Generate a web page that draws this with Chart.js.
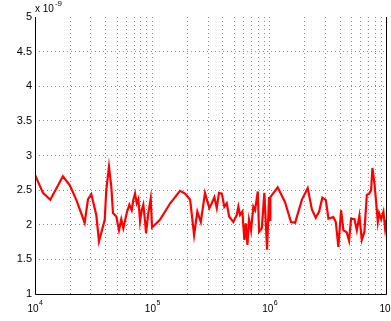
<!DOCTYPE html>
<html>
<head>
<meta charset="utf-8">
<script src="https://cdn.jsdelivr.net/npm/chart.js@4/dist/chart.umd.min.js"></script>
<style>
  html, body { margin: 0; padding: 0; background: #fff; }
  canvas { display: block; }
</style>
</head>
<body>
<canvas id="miGrafica" width="391" height="321"></canvas>
<script>
// frequency (Hz) and noise (x 1e-9)
const freqs = [
  1.00e4, 1.17e4, 1.35e4, 1.73e4, 1.98e4, 2.25e4, 2.65e4, 2.83e4, 3.02e4, 3.33e4,
  3.51e4, 3.93e4, 4.05e4, 4.27e4, 4.47e4, 4.62e4, 4.93e4, 5.20e4, 5.44e4,
  5.66e4, 6.05e4, 6.37e4, 6.67e4, 6.89e4, 7.12e4, 7.36e4, 7.60e4, 7.86e4, 8.12e4,
  8.38e4, 8.67e4, 8.84e4, 9.25e4, 9.69e4, 9.94e4, 1.16e5, 1.42e5, 1.72e5, 1.90e5,
  2.10e5, 2.27e5, 2.42e5, 2.59e5, 2.81e5, 3.06e5,
  3.21e5, 3.38e5, 3.54e5, 3.70e5, 3.91e5, 4.11e5, 4.31e5, 4.51e5, 4.90e5, 5.24e5,
  5.41e5, 5.59e5, 5.85e5, 6.09e5, 6.26e5, 6.46e5, 6.67e5, 6.94e5, 7.26e5, 7.51e5,
  7.92e5, 8.12e5, 8.57e5, 9.01e5, 9.26e5, 9.50e5, 9.88e5, 1.008e6, 1.014e6, 1.17e6,
  1.35e6, 1.52e6,
  1.65e6, 1.88e6, 2.11e6, 2.29e6, 2.47e6, 2.64e6, 2.81e6, 3.01e6, 3.17e6, 3.49e6,
  3.66e6, 3.85e6, 4.06e6, 4.25e6, 4.54e6, 4.75e6, 4.94e6, 5.28e6, 5.53e6, 5.82e6,
  6.10e6, 6.42e6, 6.73e6, 7.04e6, 7.32e6, 7.51e6, 7.81e6, 8.03e6, 8.35e6, 8.56e6,
  8.91e6, 9.32e6, 9.63e6, 9.88e6, 1.00e7
];
const noise = [
  2.72, 2.46, 2.36, 2.70, 2.57, 2.36, 2.03, 2.37, 2.44, 2.14,
  1.76, 2.07, 2.50, 2.84, 2.55, 2.17, 2.12, 1.92, 2.08,
  1.95, 2.17, 2.29, 2.21, 2.36, 2.45, 2.31, 2.37, 2.05, 2.21,
  2.29, 2.05, 1.88, 2.17, 2.38, 1.96, 2.07, 2.31, 2.49, 2.45,
  2.36, 1.85, 2.19, 2.04, 2.46, 2.24,
  2.31, 2.40, 2.24, 2.46, 2.45, 2.26, 2.31, 2.12, 2.04, 2.14,
  2.26, 2.14, 2.19, 1.78, 2.02, 1.71, 2.07, 1.92, 2.26, 2.21,
  2.48, 1.90, 1.95, 2.46, 2.04, 1.64, 2.40, 2.07, 2.40, 2.54,
  2.33, 2.04,
  2.03, 2.36, 2.53, 2.22, 2.10, 2.19, 2.39, 2.36, 2.09, 2.11,
  2.04, 1.68, 2.21, 1.92, 1.89, 1.77, 2.09, 2.08, 1.92, 2.13,
  1.78, 1.90, 2.43, 2.45, 2.50, 2.82, 2.60, 2.38, 2.04, 2.17,
  2.08, 2.19, 1.95, 2.07, 1.78
];

const yTicks = [1, 1.5, 2, 2.5, 3, 3.5, 4, 4.5, 5];
const yTickLabels = ['1', '1.5', '2', '2.5', '3', '3.5', '4', '4.5', '5'];
const xDecades = [4, 5, 6, 7];
const yExponent = '-9';

// grid at 1..9 x 10^n
const xGrid = [];
xDecades.forEach(e => {
  for (let m = 1; m <= 9; m++) {
    if (e === 7 && m > 1) break;
    xGrid.push(m * Math.pow(10, e));
  }
});

const font = 'Liberation Sans, Helvetica, Arial, sans-serif';
const gridCol = 'rgba(0,0,0,0.45)';

const ejes = {
  id: 'ejes',
  afterDraw(chart) {
    const c = chart.ctx;
    const a = chart.chartArea;
    const sx = chart.scales.x;
    c.save();
    c.strokeStyle = '#000';
    c.lineWidth = 1;
    c.beginPath();
    c.moveTo(a.left + 0.5, a.top);
    c.lineTo(a.left + 0.5, a.bottom + 0.5);
    c.lineTo(a.right - 0.5, a.bottom + 0.5);
    c.lineTo(a.right - 0.5, a.top);
    c.stroke();

    c.fillStyle = '#000';
    c.textBaseline = 'alphabetic';
    c.textAlign = 'left';
    xDecades.forEach(e => {
      const px = sx.getPixelForValue(Math.pow(10, e));
      c.font = '10px ' + font;
      const w1 = c.measureText('10').width;
      c.font = '7px ' + font;
      const w2 = c.measureText(String(e)).width;
      const x0 = px - (w1 + w2) / 2;
      c.font = '10px ' + font;
      c.fillText('10', x0, 312);
      c.font = '7px ' + font;
      c.fillText(String(e), x0 + w1 + 0.5, 305);
    });

    c.font = '10px ' + font;
    const wx = c.measureText('x 10').width;
    c.fillText('x 10', a.left, 12);
    c.font = '8px ' + font;
    c.fillText(yExponent, a.left + wx + 1, 6);
    c.restore();
  }
};

const myChart = new Chart(document.getElementById('miGrafica'), {
  type: 'line',
  data: {
    datasets: [{
      data: freqs.map((f, i) => ({ x: f, y: noise[i] })),
      borderColor: '#ff0000',
      borderWidth: 2.2,
      pointRadius: 0,
      tension: 0,
      fill: false
    }]
  },
  options: {
    responsive: false,
    animation: false,
    devicePixelRatio: 1,
    layout: { padding: { top: 17, right: 4, left: 0, bottom: 0 } },
    plugins: { legend: { display: false }, tooltip: { enabled: false } },
    scales: {
      x: {
        type: 'logarithmic',
        min: 1e4,
        max: 1e7,
        afterBuildTicks: s => { s.ticks = xGrid.map(v => ({ value: v })); },
        afterFit: s => { s.height = 27; },
        ticks: { display: false },
        grid: {
          drawTicks: false,
          lineWidth: 1,
          color: ctx => (ctx.tick && (ctx.tick.value === 1e4 || ctx.tick.value === 1e7)) ? 'rgba(0,0,0,0)' : gridCol
        },
        border: { display: false, dash: [1, 3] }
      },
      y: {
        min: 1,
        max: 5,
        afterBuildTicks: s => { s.ticks = yTicks.map(v => ({ value: v })); },
        afterFit: s => { s.width = 35; },
        ticks: {
          color: '#000',
          padding: 3,
          font: { family: font, size: 11 },
          callback: (v, i) => yTickLabels[i]
        },
        grid: {
          drawTicks: false,
          lineWidth: 1,
          color: ctx => (ctx.tick && (ctx.tick.value === 1 || ctx.tick.value === 5)) ? 'rgba(0,0,0,0)' : gridCol
        },
        border: { display: false, dash: [1, 3] }
      }
    }
  },
  plugins: [ejes]
});
</script>
</body>
</html>
